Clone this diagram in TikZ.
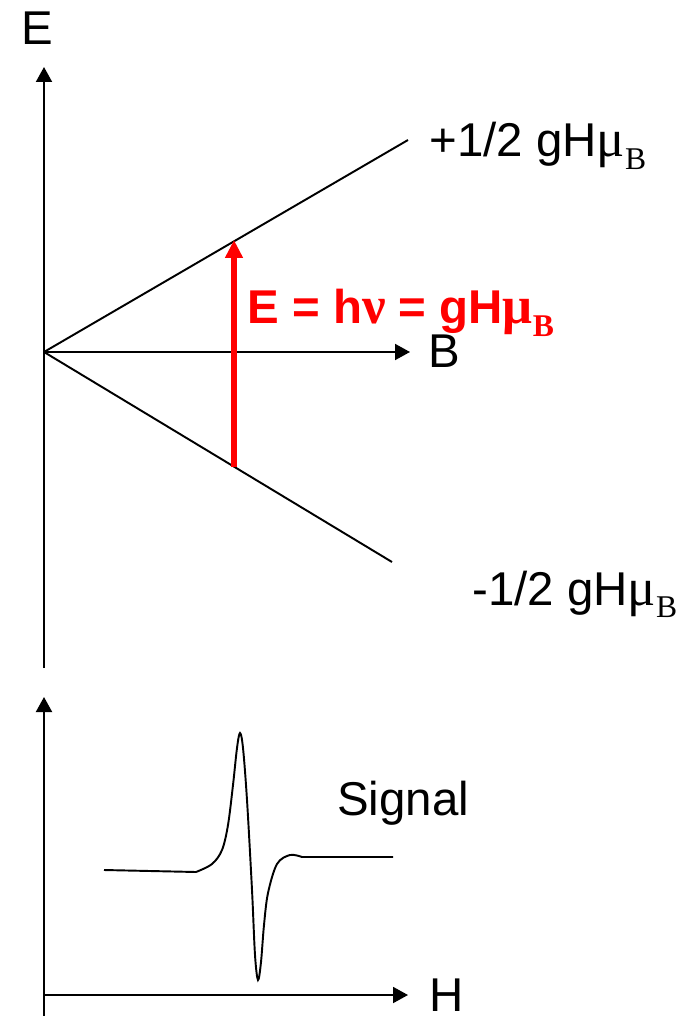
\documentclass[tikz,border=0pt]{standalone}
\usepackage{fontspec}
\setmainfont{Liberation Sans}
\newfontfamily\symbfont{Liberation Serif}
\usepackage{tikz}
\usetikzlibrary{arrows.meta}
\usetikzlibrary{positioning}
\newcommand{\muB}{{\symbfont\fontsize{30}{32}\selectfont μ}\raisebox{-0.27em}{\fontsize{18}{18}\selectfont\symbfont B}}
\tikzset{
  axis/.style={-{Triangle[length=0.3cm, width=0.32cm]}, line width=1.1pt},
  level/.style={line width=1.1pt},
  lbl/.style={inner sep=0pt, anchor=base west, font=\fontsize{27}{32}\selectfont},
  transition/.style={-{Triangle[length=0.36cm, width=0.34cm]}, line width=3.4pt, red},
}

\begin{document}
\begin{tikzpicture}[x=0.02cm, y=-0.02cm]
  \useasboundingbox (0,0) rectangle (688,1016);
  % energy diagram
  \coordinate (O) at (44,352);
  \coordinate (Ebot) at (44,668);
  \coordinate (Etop) at (44,67);
  \coordinate (Bend) at (410,352);
  \coordinate (up) at (408,140);
  \coordinate (down) at (392,562);
  \coordinate (lo) at (234,467);
  \coordinate (hi) at (234,240);
  \draw[axis] (Ebot) -- (Etop);
  \draw[axis] (O) -- (Bend);
  \draw[level] (O) -- (up);
  \draw[level] (O) -- (down);
  \draw[transition] (lo) -- (hi);
  \node[lbl] (lE) at (21,45) {E};
  \node[lbl] (lB) at (428,367) {B};
  \node[lbl] (lup) at (429,157) {+1/2 gH\muB};
  \node[lbl] (ldown) at (472,605) {-1/2 gH\muB};
  \node[lbl, red, font=\fontsize{27}{32}\selectfont\bfseries] (lres) at (247,324) {E = h{\symbfont\fontsize{30}{32}\selectfont ν} = gH\muB};
  % signal
  \coordinate (S0) at (44,1016);
  \coordinate (Stop) at (44,697);
  \coordinate (H0) at (44,995);
  \coordinate (Hend) at (408,995);
  \draw[axis] (S0) -- (Stop);
  \draw[axis] (H0) -- (Hend);
  \coordinate (a) at (104,870);
  \coordinate (b) at (196,872);
  \coordinate (c) at (302,857);
  \coordinate (d) at (393,857);
  \draw[level] (a) -- (b)
    plot[smooth, tension=0.55] coordinates {(196,872) (212,864) (222,850) (228,825) (233,785) (237,748) (240,733) (243,748) (247,800) (252,890) (255,955) (258,980) (261,962) (264,925) (268,893) (277,864) (290,855) (302,857)}
    -- (d);
  \node[lbl] (lsig) at (337,815) {Signal};
  \node[lbl] (lH) at (429,1011) {H};
\end{tikzpicture}
\end{document}
